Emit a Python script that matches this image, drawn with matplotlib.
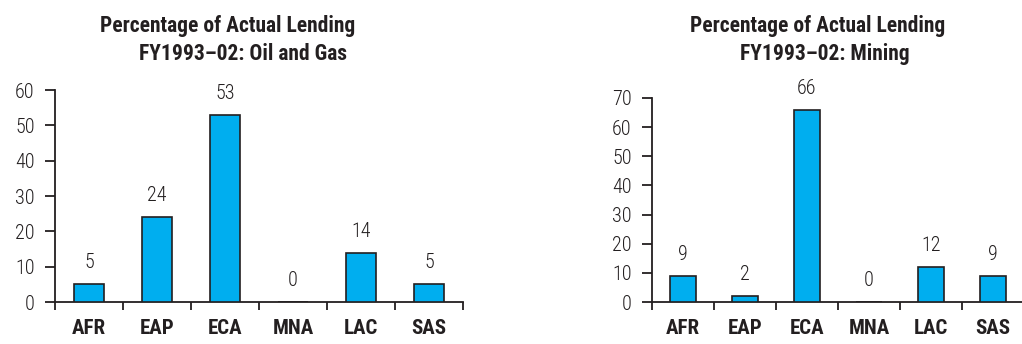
import matplotlib
matplotlib.use("Agg")
import matplotlib.pyplot as plt
import numpy as np

plt.rcParams['font.family'] = ['Roboto Condensed', 'DejaVu Sans']

regions = ["AFR", "EAP", "ECA", "MNA", "LAC", "SAS"]
oil_gas = [5, 24, 53, 0, 14, 5]
mining = [9, 2, 66, 0, 12, 9]

title_oil = ["Percentage of Actual Lending", "FY1993\u201302: Oil and Gas"]
title_mining = ["Percentage of Actual Lending", "FY1993\u201302: Mining"]
ymax = [60, 70]

bar_color = "#00AEEF"
ink = "#231F20"

fig = plt.figure(figsize=(10.22, 3.44), dpi=100)
ax1 = fig.add_axes([55 / 1022, 42 / 344, 408 / 1022, 212 / 344])
ax2 = fig.add_axes([652 / 1022, 42 / 344, 372 / 1022, 204 / 344])


def draw(ax, values, top):
    x = np.arange(len(regions))
    bars = ax.bar(x, values, width=0.43, color=bar_color, edgecolor=ink,
                  linewidth=1.2, zorder=3)
    for b, v in zip(bars, values):
        ax.annotate(str(v), (b.get_x() + b.get_width() / 2, v),
                    xytext=(0, 11.5), textcoords="offset points",
                    ha="center", va="baseline", fontsize=14.5,
                    fontweight="light", color=ink)
    ax.set_xlim(-0.5, len(regions) - 0.5)
    ax.set_ylim(0, top)
    ax.set_yticks(np.arange(0, top + 1, 10))
    ax.set_xticks(x)
    ax.set_xticklabels(regions, fontsize=15, fontweight="bold", color=ink)
    ax.set_xticks(np.arange(-0.5, len(regions)), minor=True)
    ax.tick_params(axis="x", which="major", length=0, pad=12.5)
    ax.tick_params(axis="x", which="minor", length=6, width=1.3, color=ink,
                   direction="out")
    ax.tick_params(axis="y", length=7, width=1.3, color=ink, pad=7.5)
    for lab in ax.get_yticklabels():
        lab.set_fontsize(14.5)
        lab.set_fontweight("light")
        lab.set_color(ink)
    for s in ["top", "right"]:
        ax.spines[s].set_visible(False)
    for s in ["left", "bottom"]:
        ax.spines[s].set_color(ink)
        ax.spines[s].set_linewidth(1.3)


draw(ax1, oil_gas, ymax[0])
draw(ax2, mining, ymax[1])

# two-line headings, each line centred on its own
for lines, xs in [(title_oil, (228, 243)), (title_mining, (818, 825))]:
    for line, xc, yb in zip(lines, xs, (32, 60)):
        fig.text(xc / 1022, 1 - yb / 344, line, ha="center", va="baseline",
                 fontsize=15.5, fontweight="bold", color=ink)

fig.savefig("out.png", dpi=100)
